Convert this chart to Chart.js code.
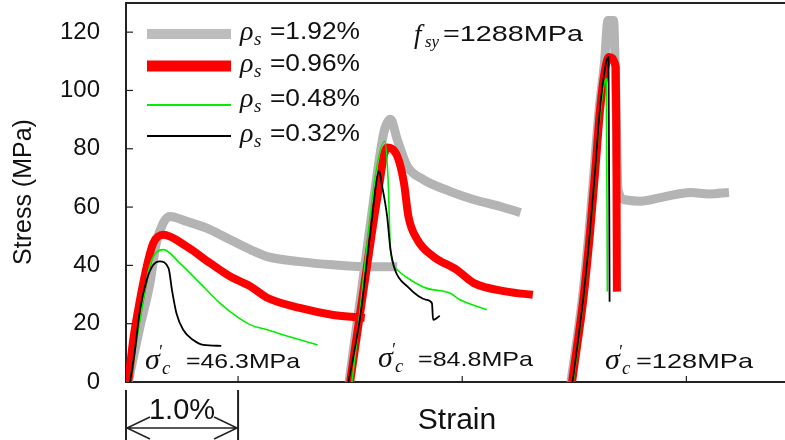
<!DOCTYPE html>
<html>
<head>
<meta charset="utf-8">
<script src="https://cdn.jsdelivr.net/npm/chart.js@4"></script>
<style>
  body { margin: 0; background: #fff; }
</style>
</head>
<body>
<canvas id="chart" width="785" height="440"></canvas>
<script>
// strain (%) / stress (MPa), three concrete strengths offset along x
const stressTicks = [0, 20, 40, 60, 80, 100, 120];
const strainTicks = [1, 3, 5];
const ratioLabels = ['1.92%', '0.96%', '0.48%', '0.32%'];
const concreteLabels = ['46.3MPa', '84.8MPa', '128MPa'];

const gray463 = [[0.02,0],[0.125,19],[0.214,34],[0.27,47.7],[0.333,54.6],[0.39,56.8],[0.54,55.1],[0.75,52.3],[0.93,48.8],[1.11,45.4],[1.26,43],[1.55,41.3],[1.85,40.2],[2.18,39.5],[2.42,39.5]];
const red463 = [[0.02,0],[0.065,14.6],[0.125,28.2],[0.185,39.6],[0.244,47.7],[0.333,50.5],[0.54,46.5],[0.75,40.8],[0.93,36.2],[1.11,32.8],[1.26,28.9],[1.55,25.4],[1.85,23],[2.13,22]];
const green463 = [[0.036,0],[0.08,11],[0.155,28.2],[0.21,39.6],[0.333,45.4],[0.48,40.8],[0.66,33.9],[0.84,27],[0.99,22.4],[1.11,19.6],[1.26,17.9],[1.46,15.5],[1.71,12.7]];
const black463 = [[0.036,0],[0.08,11],[0.125,24.8],[0.185,35],[0.244,40.2],[0.30,41.4],[0.38,39],[0.41,31.6],[0.45,23.6],[0.51,17.9],[0.60,14.4],[0.69,12.7],[0.85,12.4]];

const gray848 = [[1.99,0],[2.09,28.2],[2.21,62.6],[2.30,85.5],[2.36,90.1],[2.42,83.2],[2.51,74],[2.65,69.5],[2.89,65.4],[3.10,62.6],[3.34,60.2],[3.52,58.1]];
const red848 = [[2.0,0],[2.15,39.6],[2.24,62.6],[2.33,80.4],[2.42,77.5],[2.48,68.3],[2.52,56.8],[2.60,48.8],[2.74,43.1],[2.95,38.5],[3.1,34],[3.4,31],[3.63,29.9]];
const green848 = [[2.015,0],[2.31,82.6],[2.34,68.3],[2.36,45.4],[2.42,38.5],[2.54,35],[2.68,32.2],[2.89,30.5],[2.98,28.2],[3.22,24.8]];
const black848 = [[1.985,0],[2.09,22.5],[2.18,51.1],[2.26,72.3],[2.28,68.3],[2.33,56.8],[2.36,45.4],[2.40,38.5],[2.51,32.8],[2.68,28.2],[2.73,27],[2.74,21.3],[2.80,22.7]];

const gray128 = [[3.97,0],[4.07,28],[4.13,51],[4.18,74],[4.22,93],[4.27,110],[4.30,124],[4.35,124],[4.37,100],[4.39,66],[4.45,62.5],[4.59,62],[4.80,63.5],[5.04,65],[5.20,64.5],[5.38,65]];
const red128 = [[3.98,0],[4.02,11],[4.08,28.2],[4.14,51.1],[4.19,74],[4.23,93.5],[4.28,108.4],[4.31,111.5],[4.37,108],[4.375,85.6],[4.38,31]];
const green128 = [[3.99,0],[4.08,28],[4.14,51],[4.19,74],[4.23,92],[4.285,104],[4.295,31]];
const black128 = [[3.985,0],[4.08,28.5],[4.14,51.5],[4.19,74.5],[4.23,94],[4.28,109],[4.305,111.5],[4.315,27.5]];

const sans = '"Liberation Sans", Arial, sans-serif';
const serif = '"Liberation Serif", "DejaVu Serif", serif';

const styles = [
  { color: '#b4b4b4', width: 9, order: 4 },
  { color: '#ff0000', width: 8, order: 3 },
  { color: '#00ee00', width: 1.6, order: 2 },
  { color: '#000000', width: 1.8, order: 1 }
];
const groups = [
  [gray463, red463, green463, black463],
  [gray848, red848, green848, black848],
  [gray128, red128, green128, black128]
];

const datasets = [];
groups.forEach((g, gi) => {
  g.forEach((pts, si) => {
    const st = styles[si];
    datasets.push({
      label: 'ρs=' + ratioLabels[si] + ' / ' + concreteLabels[gi],
      data: pts.map(p => ({ x: p[0], y: p[1] })),
      borderColor: st.color,
      borderWidth: st.width,
      order: st.order,
      pointRadius: 0,
      showLine: true,
      fill: false,
      cubicInterpolationMode: 'monotone'
    });
  });
});

function fitText(ctx, text, x, yc, font, w) {
  ctx.save();
  ctx.font = font;
  ctx.textAlign = 'left';
  ctx.textBaseline = 'middle';
  const m = ctx.measureText(text).width;
  ctx.translate(x, yc);
  ctx.scale(w / m, 1);
  ctx.fillText(text, 0, 0);
  ctx.restore();
}

function plain(ctx, text, x, y, font) {
  ctx.font = font;
  ctx.textAlign = 'left';
  ctx.textBaseline = 'alphabetic';
  ctx.fillText(text, x, y);
}

const decor = {
  id: 'decor',
  afterDraw(chart) {
    const ctx = chart.ctx;
    const a = chart.chartArea;
    const xs = chart.scales.x, ys = chart.scales.y;
    ctx.save();
    ctx.strokeStyle = '#222';
    ctx.fillStyle = '#111';

    // top frame line
    ctx.lineWidth = 2;
    ctx.beginPath();
    ctx.moveTo(a.left - 1, a.top);
    ctx.lineTo(a.right, a.top);
    ctx.stroke();

    // inward ticks
    ctx.lineWidth = 1.2;
    stressTicks.forEach(v => {
      if (v === 0) return;
      const y = ys.getPixelForValue(v);
      ctx.beginPath(); ctx.moveTo(a.left, y); ctx.lineTo(a.left + 7, y); ctx.stroke();
    });
    strainTicks.forEach(v => {
      const x = xs.getPixelForValue(v);
      ctx.beginPath(); ctx.moveTo(x, a.bottom); ctx.lineTo(x, a.bottom - 6); ctx.stroke();
    });

    // legend
    const legendY = [34, 66, 105, 136];
    const textY = [33, 65, 100, 135];
    const legendColors = ['#bdbdbd', '#ff0000', '#00ee00', '#000000'];
    const legendWidths = [10, 11, 2, 2.2];
    ratioLabels.forEach((lab, i) => {
      ctx.strokeStyle = legendColors[i];
      ctx.lineWidth = legendWidths[i];
      ctx.beginPath(); ctx.moveTo(147, legendY[i]); ctx.lineTo(231, legendY[i]); ctx.stroke();
      ctx.fillStyle = '#111';
      plain(ctx, 'ρ', 240, textY[i] + 7, 'italic 28px ' + serif);
      plain(ctx, 's', 254, textY[i] + 12, 'italic 19px ' + serif);
      fitText(ctx, '=' + lab, 270, textY[i], '23px ' + sans, 90);
    });

    // yield strength note
    plain(ctx, 'f', 414, 43, 'italic 27px ' + serif);
    plain(ctx, 'sy', 425, 47, 'italic 17px ' + serif);
    fitText(ctx, '=1288MPa', 443, 35, '22px ' + sans, 140);

    // concrete strength notes
    const notes = [[145, 362, 186, 114], [378, 360, 418, 115], [605, 362, 636, 117]];
    notes.forEach((n, i) => {
      plain(ctx, 'σ', n[0], n[1] + 7, 'italic 30px ' + serif);
      plain(ctx, '′', n[0] + 13, n[1] - 4, 'italic 18px ' + serif);
      plain(ctx, 'c', n[0] + 17, n[1] + 12, 'italic 19px ' + serif);
      fitText(ctx, '=' + concreteLabels[i], n[2], n[1], '21px ' + sans, n[3]);
    });

    // axis titles
    ctx.save();
    ctx.translate(24, 192);
    ctx.rotate(-Math.PI / 2);
    ctx.font = '25px ' + sans;
    ctx.textAlign = 'center';
    ctx.textBaseline = 'middle';
    ctx.fillText('Stress (MPa)', 0, 0);
    ctx.restore();
    ctx.font = '30px ' + sans;
    ctx.textAlign = 'center';
    ctx.textBaseline = 'middle';
    ctx.fillText('Strain', 457, 421);

    // 1.0% strain scale bar
    const x0 = xs.getPixelForValue(0), x1 = xs.getPixelForValue(1);
    ctx.strokeStyle = '#222';
    ctx.lineWidth = 2;
    ctx.beginPath();
    ctx.moveTo(x0, 390); ctx.lineTo(x0, 440);
    ctx.moveTo(x1, 390); ctx.lineTo(x1, 440);
    ctx.stroke();
    ctx.lineWidth = 1.5;
    ctx.beginPath();
    ctx.moveTo(x0, 428); ctx.lineTo(x1, 428);
    ctx.moveTo(x0 + 24, 417); ctx.lineTo(x0 + 1, 428); ctx.lineTo(x0 + 24, 439);
    ctx.moveTo(x1 - 24, 417); ctx.lineTo(x1 - 1, 428); ctx.lineTo(x1 - 24, 439);
    ctx.stroke();
    ctx.font = '29px ' + sans;
    ctx.fillText('1.0%', (x0 + x1) / 2, 411);
    ctx.restore();
  }
};

new Chart(document.getElementById('chart'), {
  type: 'scatter',
  data: { datasets: datasets },
  options: {
    responsive: false,
    animation: false,
    layout: { padding: { top: 3, right: 0, left: 0, bottom: 0 } },
    plugins: { legend: { display: false }, tooltip: { enabled: false } },
    scales: {
      x: {
        type: 'linear',
        min: 0,
        max: 5.88,
        grid: { display: false },
        border: { display: true, color: '#222', width: 2 },
        ticks: { display: false },
        afterFit: s => { s.height = 58; s.paddingLeft = 0; s.paddingRight = 0; }
      },
      y: {
        min: 0,
        max: 130,
        grid: { display: false, drawTicks: false },
        border: { display: true, color: '#222', width: 2 },
        ticks: { color: '#111', padding: 26, font: { size: 24, family: sans } },
        afterBuildTicks: s => { s.ticks = stressTicks.map(v => ({ value: v })); },
        afterFit: s => { s.width = 126; s.paddingTop = 0; s.paddingBottom = 0; }
      }
    }
  },
  plugins: [decor]
});
</script>
</body>
</html>
